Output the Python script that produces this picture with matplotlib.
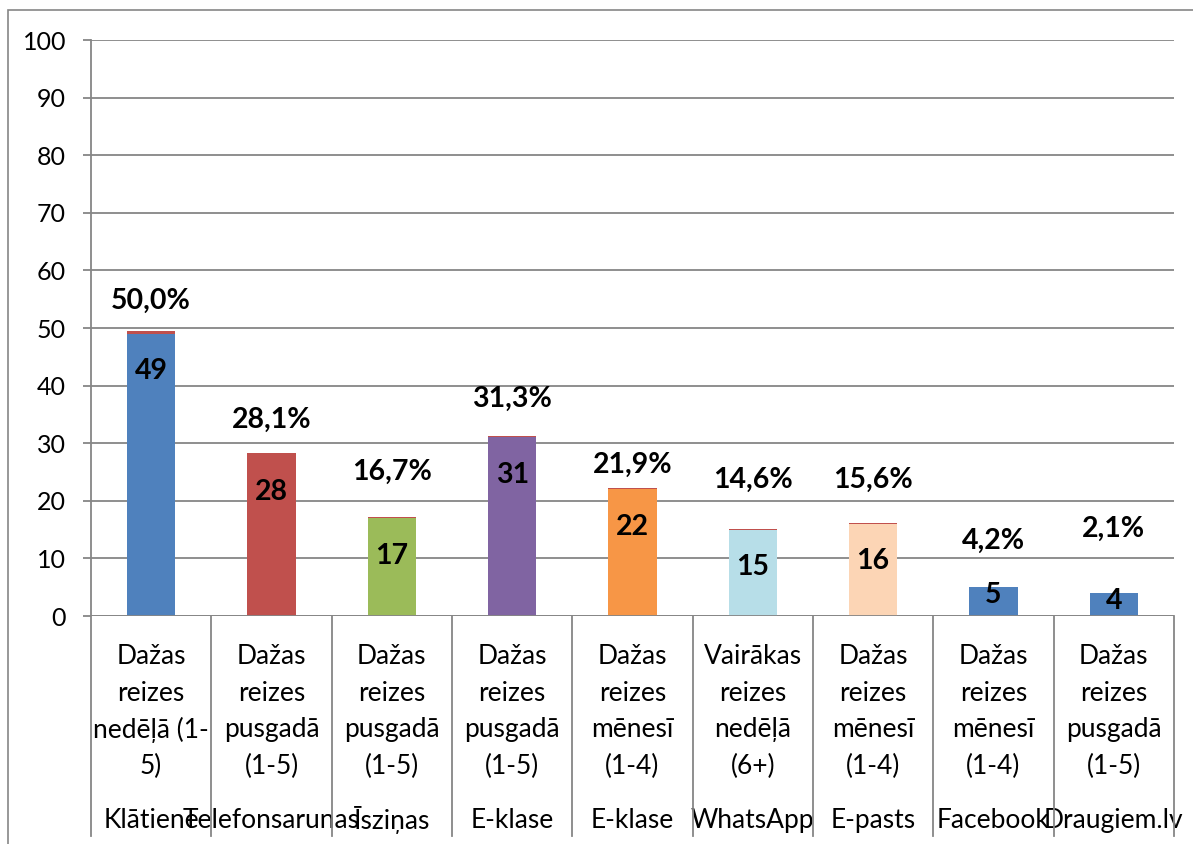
import matplotlib
matplotlib.use("Agg")
import matplotlib.pyplot as plt
from matplotlib.patches import Rectangle
from matplotlib.lines import Line2D

plt.rcParams['font.family'] = ['Lato', 'DejaVu Sans']

# ---- data ----
channels = ["Klātiene", "Telefonsarunas", "Īsziņas", "E-klase", "E-klase",
            "WhatsApp", "E-pasts", "Facebook", "Draugiem.lv"]
frequency = [
    ["Dažas", "reizes", "nedēļā (1-", "5)"],
    ["Dažas", "reizes", "pusgadā", "(1-5)"],
    ["Dažas", "reizes", "pusgadā", "(1-5)"],
    ["Dažas", "reizes", "pusgadā", "(1-5)"],
    ["Dažas", "reizes", "mēnesī", "(1-4)"],
    ["Vairākas", "reizes", "nedēļā", "(6+)"],
    ["Dažas", "reizes", "mēnesī", "(1-4)"],
    ["Dažas", "reizes", "mēnesī", "(1-4)"],
    ["Dažas", "reizes", "pusgadā", "(1-5)"],
]
counts = [49, 28, 17, 31, 22, 15, 16, 5, 4]
percent = [50.0, 28.1, 16.7, 31.3, 21.9, 14.6, 15.6, 4.2, 2.1]
pct_text = ["50,0%", "28,1%", "16,7%", "31,3%", "21,9%", "14,6%", "15,6%", "4,2%", "2,1%"]
yticks = [0, 10, 20, 30, 40, 50, 60, 70, 80, 90, 100]

# ---- styling ----
bar_colors = ["#4F81BD", "#C0504D", "#9BBB59", "#8064A2", "#F79646",
              "#B7DEE8", "#FCD5B5", "#4F81BD", "#4F81BD"]
pct_color = "#C0504D"
grid_color = "#868686"
pct_label_y = [55.2, 34.4, 25.5, 38.2, 26.6, 24.0, 24.0, 13.4, 15.5]

W, H = 1193, 844
fig = plt.figure(figsize=(W / 100, H / 100), dpi=100)
fig.patch.set_facecolor("white")

# chart-area border (extends off the image on right and bottom)
fig.add_artist(Rectangle((8 / W, -0.1), 1.2, (H - 10) / H + 0.1,
                         transform=fig.transFigure, fill=False,
                         edgecolor=grid_color, linewidth=1.2))

left, right, top, bottom = 91, 1174, 40, 616
ax = fig.add_axes([left / W, 1 - bottom / H, (right - left) / W, (bottom - top) / H])

x = list(range(len(counts)))
ax.bar(x, counts, width=0.4, color=bar_colors, zorder=3)
pct_heights = [p / 100 for p in percent]
ax.bar(x, pct_heights, width=0.4, bottom=counts, color=pct_color, zorder=3)

ax.set_xlim(-0.5, len(counts) - 0.5)
ax.set_ylim(0, 100)
ax.set_yticks(yticks)
ax.set_yticklabels([str(t) for t in yticks], fontsize=18)
ax.tick_params(axis='y', length=6, width=1.3, color=grid_color, pad=12)
ax.set_xticks([])
ax.yaxis.grid(True, color=grid_color, linewidth=1.3, zorder=0)
for s in ["top", "right", "bottom", "left"]:
    ax.spines[s].set_visible(False)

ax.axhline(0, color=grid_color, linewidth=1.3, zorder=4)

# vertical separators between categories (extend through label area)
sep_depth = 220 / (bottom - top)
trans = ax.get_xaxis_transform()
for b in [i - 0.5 for i in range(len(counts) + 1)]:
    y0 = 1.0 if b == -0.5 else 0.0
    ax.add_line(Line2D([b, b], [y0, -sep_depth], transform=trans,
                       color=grid_color, linewidth=1.3, clip_on=False, zorder=4))

# count labels inside bars
for i, v in enumerate(counts):
    ly = v - 6.1 if v > 10 else v - 1.0
    ax.text(i, ly, str(v), ha='center', va='center_baseline', fontsize=20.5,
            fontweight='bold', color='black', zorder=5)

# percentage labels
for i, t in enumerate(pct_text):
    ax.text(i, pct_label_y[i], t, ha='center', va='center_baseline', fontsize=20.5,
            fontweight='bold', color='black', zorder=5)

# category labels (two levels)
line_px = 36.7
for i, lines in enumerate(frequency):
    for k, ln in enumerate(lines):
        ax.annotate(ln, xy=(i, 0), xycoords=('data', 'axes fraction'),
                    xytext=(0, -(38 + k * line_px) * 0.72), textcoords='offset points',
                    ha='center', va='center_baseline', fontsize=19, annotation_clip=False)
    ax.annotate(channels[i], xy=(i, 0), xycoords=('data', 'axes fraction'),
                xytext=(0, -202 * 0.72), textcoords='offset points',
                ha='center', va='center_baseline', fontsize=19, annotation_clip=False)

fig.savefig("out.png", dpi=100)
